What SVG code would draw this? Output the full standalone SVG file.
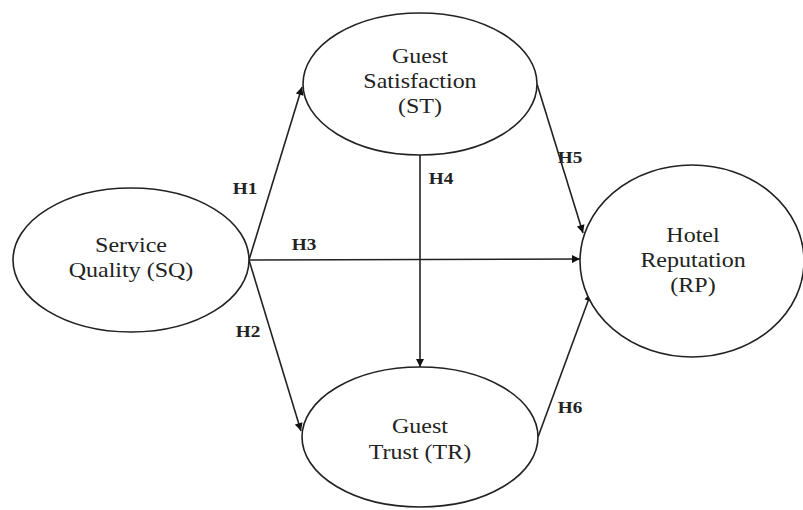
<svg xmlns="http://www.w3.org/2000/svg" width="803" height="510" viewBox="0 0 803 510">
<defs>
<style>
.node{fill:#fff;stroke:#222;stroke-width:1.6}
.t{font-family:"Liberation Serif","Times New Roman",serif;font-size:20px;fill:#222;text-anchor:middle}
.lbl{font-family:"Liberation Serif","Times New Roman",serif;font-size:16px;font-weight:bold;fill:#222;text-anchor:middle}
.c{stroke:#222;stroke-width:1.6;fill:none;marker-end:url(#ah)}
</style>
<marker id="ah" viewBox="0 0 10 10" refX="10" refY="5" markerWidth="11" markerHeight="8" markerUnits="userSpaceOnUse" orient="auto">
<path d="M0,0 L10,5 L0,10 z" fill="#111"/>
</marker>
</defs>
<rect width="803" height="510" fill="#fff"/>
<g id="connectors">
<line class="c" x1="249" y1="260" x2="302" y2="87"/>
<line class="c" x1="249" y1="260" x2="301" y2="431"/>
<line class="c" x1="249" y1="260" x2="580" y2="259"/>
<line class="c" x1="420" y1="155" x2="420" y2="367"/>
<line class="c" x1="537" y1="84" x2="583" y2="233"/>
<line class="c" x1="538" y1="437" x2="591" y2="293"/>
<text class="lbl" transform="translate(245,194) scale(1.2,1)">H1</text>
<text class="lbl" transform="translate(248,337) scale(1.2,1)">H2</text>
<text class="lbl" transform="translate(304,250) scale(1.2,1)">H3</text>
<text class="lbl" transform="translate(441,184) scale(1.2,1)">H4</text>
<text class="lbl" transform="translate(570,163) scale(1.2,1)">H5</text>
<text class="lbl" transform="translate(570,413) scale(1.2,1)">H6</text>
</g>
<g id="SQ">
<ellipse class="node" cx="131" cy="260" rx="118" ry="72"/>
<text class="t" transform="translate(131,252) scale(1.2,1)">Service</text>
<text class="t" transform="translate(131,277) scale(1.2,1)">Quality (SQ)</text>
</g>
<g id="ST">
<ellipse class="node" cx="420" cy="84" rx="117" ry="71"/>
<text class="t" transform="translate(420,63) scale(1.2,1)">Guest</text>
<text class="t" transform="translate(420,88) scale(1.2,1)">Satisfaction</text>
<text class="t" transform="translate(420,113) scale(1.2,1)">(ST)</text>
</g>
<g id="RP">
<ellipse class="node" cx="692" cy="261" rx="112" ry="96"/>
<text class="t" transform="translate(693,242) scale(1.2,1)">Hotel</text>
<text class="t" transform="translate(693,267) scale(1.2,1)">Reputation</text>
<text class="t" transform="translate(693,292) scale(1.2,1)">(RP)</text>
</g>
<g id="TR">
<ellipse class="node" cx="420" cy="437" rx="118" ry="70"/>
<text class="t" transform="translate(420,433) scale(1.2,1)">Guest</text>
<text class="t" transform="translate(420,459) scale(1.2,1)">Trust (TR)</text>
</g>
</svg>
